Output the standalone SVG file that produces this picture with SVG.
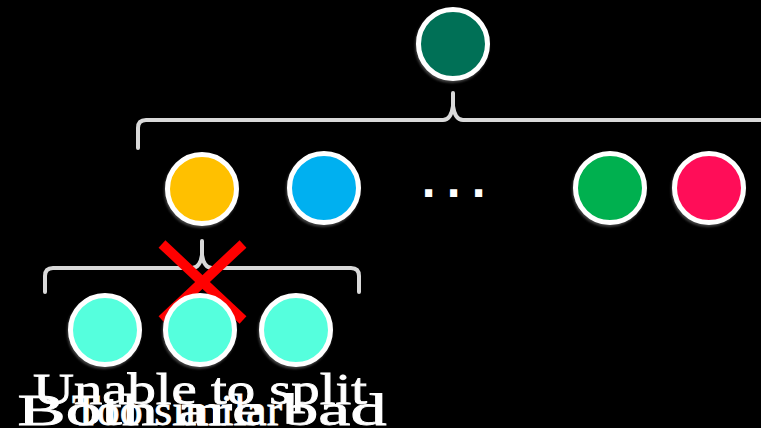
<svg xmlns="http://www.w3.org/2000/svg" width="761" height="428" viewBox="0 0 761 428">
  <style>
    .node { stroke: #FFFFFF; stroke-width: 5; filter: url(#sh); }
    .brace { fill: none; stroke: #D9D9D9; stroke-width: 4; stroke-linecap: round; stroke-linejoin: round; }
    .cross { stroke: #FF0000; stroke-width: 10; stroke-linecap: butt; }
    .lbl { font-family: "Liberation Serif", "Times New Roman", serif; font-size: 45px; fill: #FFFFFF; stroke: #FFFFFF; stroke-width: 0.8; text-anchor: middle; }
    .dots { font-family: "DejaVu Sans", sans-serif; font-weight: bold; font-size: 40px; fill: #FFFFFF; }
  </style>
  <defs>
    <filter id="sh" x="-20%" y="-20%" width="140%" height="150%">
      <feDropShadow dx="-1" dy="2" stdDeviation="1" flood-color="#808080" flood-opacity="0.5"/>
    </filter>
  </defs>
  <rect x="0" y="0" width="761" height="428" fill="#000000"/>

  <g id="connectors">
    <path class="brace" d="M138,148 V128 Q138,120 146,120 H443 Q451,120 453,106 V93 M453,106 Q455,120 463,120 H775"/>
    <path class="brace" d="M45,292 V276 Q45,268 53,268 H192 Q200,268 202,255 V241 M202,255 Q204,268 212,268 H351 Q359,268 359,276 V292"/>
  </g>

  <g id="cross">
    <line class="cross" x1="162" y1="244" x2="243" y2="320"/>
    <line class="cross" x1="243" y1="244" x2="162" y2="320"/>
  </g>

  <g id="root"><circle class="node" cx="453" cy="44" r="34.5" fill="#007057"/></g>
  <g id="n-yellow"><circle class="node" cx="202" cy="189" r="34.5" fill="#FFC000"/></g>
  <g id="n-blue"><circle class="node" cx="324" cy="188" r="34.5" fill="#00B0F0"/></g>
  <g id="ellipsis"><text class="dots" x="421" y="197" letter-spacing="9.8">...</text></g>
  <g id="n-green"><circle class="node" cx="610" cy="188" r="34.5" fill="#00B050"/></g>
  <g id="n-red"><circle class="node" cx="709" cy="188" r="34.5" fill="#FF1158"/></g>

  <g id="c1"><circle class="node" cx="105" cy="330" r="34.5" fill="#55FFDD"/></g>
  <g id="c2"><circle class="node" cx="200" cy="330" r="34.5" fill="#55FFDD"/></g>
  <g id="c3"><circle class="node" cx="296" cy="330" r="34.5" fill="#55FFDD"/></g>

  <g id="labels">
    <text class="lbl" x="200" y="404" textLength="334" lengthAdjust="spacingAndGlyphs">Unable to split</text>
    <text class="lbl" x="202" y="425" textLength="369" lengthAdjust="spacingAndGlyphs">Both are bad</text>
    <text class="lbl" x="177" y="425" textLength="210" lengthAdjust="spacingAndGlyphs">Too similar</text>
  </g>
</svg>
